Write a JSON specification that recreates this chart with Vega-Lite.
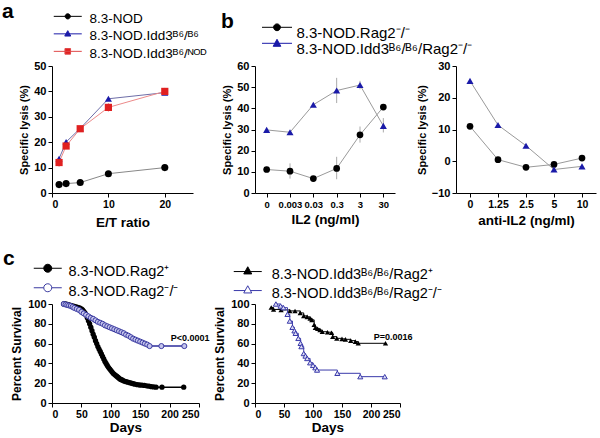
{
  "$schema": "https://vega.github.io/schema/vega-lite/v6.json",
  "autosize": {"type": "none"},
  "padding": {"left": 52, "top": 66, "right": 548, "bottom": 372},
  "background": "white",
  "config": {
    "view": {"stroke": null},
    "font": "Liberation Sans",
    "axis": {"domainColor": "black", "tickColor": "black", "labelColor": "black", "titleColor": "black", "labelFont": "Liberation Sans", "titleFont": "Liberation Sans", "labelFontWeight": "bold", "titleFontWeight": "bold", "grid": false, "tickSize": 4, "domainWidth": 1, "tickWidth": 1},
    "axisX": {"labelFontSize": 10.5, "titleFontSize": 13.5, "labelAngle": 0},
    "axisY": {"labelFontSize": 11, "titleFontSize": 11},
    "title": {"font": "Liberation Sans", "fontWeight": "bold", "color": "black", "anchor": "start", "frame": "group", "fontSize": 21},
    "legend": {"labelFont": "Liberation Sans", "labelColor": "black", "labelFontWeight": "normal", "labelLimit": 400, "symbolSize": 64, "padding": 0, "offset": 0, "symbolStrokeWidth": 1}
  },
  "datasets": {
    "a": [
      {"g": "8.3-NOD", "et": 1.25, "lysis": 3.3, "lo": 2.5, "hi": 4.1},
      {"g": "8.3-NOD", "et": 2.5, "lysis": 3.7, "lo": 3.2, "hi": 4.2},
      {"g": "8.3-NOD", "et": 5, "lysis": 4.1, "lo": 3.6, "hi": 4.6},
      {"g": "8.3-NOD", "et": 10, "lysis": 7.6, "lo": 7.0, "hi": 8.2},
      {"g": "8.3-NOD", "et": 20, "lysis": 10, "lo": 9.4, "hi": 10.6},
      {"g": "8.3-NOD.Idd3ᴮ⁶/ᴮ⁶", "et": 1.25, "lysis": 13.5, "lo": 12.5, "hi": 14.5},
      {"g": "8.3-NOD.Idd3ᴮ⁶/ᴮ⁶", "et": 2.5, "lysis": 20.1, "lo": 19.3, "hi": 20.9},
      {"g": "8.3-NOD.Idd3ᴮ⁶/ᴮ⁶", "et": 5, "lysis": 25.4, "lo": 24.6, "hi": 26.2},
      {"g": "8.3-NOD.Idd3ᴮ⁶/ᴮ⁶", "et": 10, "lysis": 37.1, "lo": 36.3, "hi": 37.9},
      {"g": "8.3-NOD.Idd3ᴮ⁶/ᴮ⁶", "et": 20, "lysis": 39.5, "lo": 38.5, "hi": 40.5},
      {"g": "8.3-NOD.Idd3ᴮ⁶/ᴺᴼᴰ", "et": 1.25, "lysis": 12, "lo": 10.3, "hi": 13.7},
      {"g": "8.3-NOD.Idd3ᴮ⁶/ᴺᴼᴰ", "et": 2.5, "lysis": 18.5, "lo": 17.5, "hi": 19.5},
      {"g": "8.3-NOD.Idd3ᴮ⁶/ᴺᴼᴰ", "et": 5, "lysis": 25.3, "lo": 24.3, "hi": 26.3},
      {"g": "8.3-NOD.Idd3ᴮ⁶/ᴺᴼᴰ", "et": 10, "lysis": 33.7, "lo": 32.0, "hi": 35.4},
      {"g": "8.3-NOD.Idd3ᴮ⁶/ᴺᴼᴰ", "et": 20, "lysis": 40, "lo": 38.6, "hi": 41.4}
    ],
    "b1": [
      {"g": "8.3-NOD.Rag2⁻/⁻", "c": "0", "v": 11.1, "lo": 9.8, "hi": 12.4},
      {"g": "8.3-NOD.Rag2⁻/⁻", "c": "0.003", "v": 10.3, "lo": 6.8, "hi": 14.0},
      {"g": "8.3-NOD.Rag2⁻/⁻", "c": "0.03", "v": 6.8, "lo": 6.1, "hi": 7.5},
      {"g": "8.3-NOD.Rag2⁻/⁻", "c": "0.3", "v": 11.6, "lo": 6.5, "hi": 17.1},
      {"g": "8.3-NOD.Rag2⁻/⁻", "c": "3", "v": 27.5, "lo": 23.8, "hi": 31.4},
      {"g": "8.3-NOD.Rag2⁻/⁻", "c": "30", "v": 40.6, "lo": 39.6, "hi": 41.6},
      {"g": "8.3-NOD.Idd3ᴮ⁶/ᴮ⁶/Rag2⁻/⁻", "c": "0", "v": 29.8, "lo": 29.1, "hi": 30.5},
      {"g": "8.3-NOD.Idd3ᴮ⁶/ᴮ⁶/Rag2⁻/⁻", "c": "0.003", "v": 28.7, "lo": 28.0, "hi": 29.4},
      {"g": "8.3-NOD.Idd3ᴮ⁶/ᴮ⁶/Rag2⁻/⁻", "c": "0.03", "v": 41.7, "lo": 40.9, "hi": 42.5},
      {"g": "8.3-NOD.Idd3ᴮ⁶/ᴮ⁶/Rag2⁻/⁻", "c": "0.3", "v": 48.4, "lo": 42.5, "hi": 54.4},
      {"g": "8.3-NOD.Idd3ᴮ⁶/ᴮ⁶/Rag2⁻/⁻", "c": "3", "v": 51, "lo": 49.0, "hi": 53.0},
      {"g": "8.3-NOD.Idd3ᴮ⁶/ᴮ⁶/Rag2⁻/⁻", "c": "30", "v": 31.7, "lo": 28.6, "hi": 35.4}
    ],
    "b2": [
      {"g": "8.3-NOD.Rag2⁻/⁻", "c": "0", "v": 11},
      {"g": "8.3-NOD.Rag2⁻/⁻", "c": "1.25", "v": 0.5},
      {"g": "8.3-NOD.Rag2⁻/⁻", "c": "2.5", "v": -1.9},
      {"g": "8.3-NOD.Rag2⁻/⁻", "c": "5", "v": -1},
      {"g": "8.3-NOD.Rag2⁻/⁻", "c": "10", "v": 1},
      {"g": "8.3-NOD.Idd3ᴮ⁶/ᴮ⁶/Rag2⁻/⁻", "c": "0", "v": 25.3},
      {"g": "8.3-NOD.Idd3ᴮ⁶/ᴮ⁶/Rag2⁻/⁻", "c": "1.25", "v": 11.4},
      {"g": "8.3-NOD.Idd3ᴮ⁶/ᴮ⁶/Rag2⁻/⁻", "c": "2.5", "v": 4.9},
      {"g": "8.3-NOD.Idd3ᴮ⁶/ᴮ⁶/Rag2⁻/⁻", "c": "5", "v": -2.6},
      {"g": "8.3-NOD.Idd3ᴮ⁶/ᴮ⁶/Rag2⁻/⁻", "c": "10", "v": -1.6}
    ],
    "c1": [
      {"g": "8.3-NOD.Rag2⁺", "day": 20, "pct": 100}, {"g": "8.3-NOD.Rag2⁺", "day": 23, "pct": 100}, {"g": "8.3-NOD.Rag2⁺", "day": 26, "pct": 99.5}, {"g": "8.3-NOD.Rag2⁺", "day": 29, "pct": 99}, {"g": "8.3-NOD.Rag2⁺", "day": 32, "pct": 98.5}, {"g": "8.3-NOD.Rag2⁺", "day": 35, "pct": 98}, {"g": "8.3-NOD.Rag2⁺", "day": 38, "pct": 97.5}, {"g": "8.3-NOD.Rag2⁺", "day": 41, "pct": 97}, {"g": "8.3-NOD.Rag2⁺", "day": 44, "pct": 96.5}, {"g": "8.3-NOD.Rag2⁺", "day": 47, "pct": 96}, {"g": "8.3-NOD.Rag2⁺", "day": 50, "pct": 95}, {"g": "8.3-NOD.Rag2⁺", "day": 52, "pct": 94}, {"g": "8.3-NOD.Rag2⁺", "day": 54, "pct": 92.5}, {"g": "8.3-NOD.Rag2⁺", "day": 56, "pct": 91}, {"g": "8.3-NOD.Rag2⁺", "day": 58, "pct": 89}, {"g": "8.3-NOD.Rag2⁺", "day": 60, "pct": 86}, {"g": "8.3-NOD.Rag2⁺", "day": 62, "pct": 83}, {"g": "8.3-NOD.Rag2⁺", "day": 64, "pct": 80}, {"g": "8.3-NOD.Rag2⁺", "day": 66, "pct": 76.5}, {"g": "8.3-NOD.Rag2⁺", "day": 68, "pct": 73}, {"g": "8.3-NOD.Rag2⁺", "day": 70, "pct": 69.5}, {"g": "8.3-NOD.Rag2⁺", "day": 72, "pct": 66.5}, {"g": "8.3-NOD.Rag2⁺", "day": 74, "pct": 63}, {"g": "8.3-NOD.Rag2⁺", "day": 76, "pct": 60}, {"g": "8.3-NOD.Rag2⁺", "day": 78, "pct": 57}, {"g": "8.3-NOD.Rag2⁺", "day": 80, "pct": 54.5}, {"g": "8.3-NOD.Rag2⁺", "day": 82, "pct": 52}, {"g": "8.3-NOD.Rag2⁺", "day": 84, "pct": 49.5}, {"g": "8.3-NOD.Rag2⁺", "day": 86, "pct": 47}, {"g": "8.3-NOD.Rag2⁺", "day": 88, "pct": 44.5}, {"g": "8.3-NOD.Rag2⁺", "day": 90, "pct": 42}, {"g": "8.3-NOD.Rag2⁺", "day": 92, "pct": 40}, {"g": "8.3-NOD.Rag2⁺", "day": 94, "pct": 38}, {"g": "8.3-NOD.Rag2⁺", "day": 96, "pct": 36}, {"g": "8.3-NOD.Rag2⁺", "day": 98, "pct": 34.5}, {"g": "8.3-NOD.Rag2⁺", "day": 100, "pct": 33}, {"g": "8.3-NOD.Rag2⁺", "day": 102, "pct": 31.5}, {"g": "8.3-NOD.Rag2⁺", "day": 104, "pct": 30}, {"g": "8.3-NOD.Rag2⁺", "day": 106, "pct": 29}, {"g": "8.3-NOD.Rag2⁺", "day": 108, "pct": 28}, {"g": "8.3-NOD.Rag2⁺", "day": 110, "pct": 27}, {"g": "8.3-NOD.Rag2⁺", "day": 112, "pct": 26}, {"g": "8.3-NOD.Rag2⁺", "day": 114, "pct": 25}, {"g": "8.3-NOD.Rag2⁺", "day": 116, "pct": 24}, {"g": "8.3-NOD.Rag2⁺", "day": 118, "pct": 23.5}, {"g": "8.3-NOD.Rag2⁺", "day": 120, "pct": 23}, {"g": "8.3-NOD.Rag2⁺", "day": 123, "pct": 22}, {"g": "8.3-NOD.Rag2⁺", "day": 126, "pct": 21.5}, {"g": "8.3-NOD.Rag2⁺", "day": 129, "pct": 21}, {"g": "8.3-NOD.Rag2⁺", "day": 132, "pct": 20.5}, {"g": "8.3-NOD.Rag2⁺", "day": 135, "pct": 20}, {"g": "8.3-NOD.Rag2⁺", "day": 138, "pct": 19.5}, {"g": "8.3-NOD.Rag2⁺", "day": 141, "pct": 19}, {"g": "8.3-NOD.Rag2⁺", "day": 145, "pct": 18.5}, {"g": "8.3-NOD.Rag2⁺", "day": 149, "pct": 18.2}, {"g": "8.3-NOD.Rag2⁺", "day": 153, "pct": 18}, {"g": "8.3-NOD.Rag2⁺", "day": 157, "pct": 17.7}, {"g": "8.3-NOD.Rag2⁺", "day": 161, "pct": 17.3}, {"g": "8.3-NOD.Rag2⁺", "day": 165, "pct": 17}, {"g": "8.3-NOD.Rag2⁺", "day": 169, "pct": 16.5}, {"g": "8.3-NOD.Rag2⁺", "day": 173, "pct": 16.2}, {"g": "8.3-NOD.Rag2⁺", "day": 177, "pct": 16}, {"g": "8.3-NOD.Rag2⁺", "day": 187, "pct": 16}, {"g": "8.3-NOD.Rag2⁺", "day": 224, "pct": 16},
      {"g": "8.3-NOD.Rag2⁻/⁻", "day": 20, "pct": 100}, {"g": "8.3-NOD.Rag2⁻/⁻", "day": 23, "pct": 99.5}, {"g": "8.3-NOD.Rag2⁻/⁻", "day": 26, "pct": 99}, {"g": "8.3-NOD.Rag2⁻/⁻", "day": 29, "pct": 98.5}, {"g": "8.3-NOD.Rag2⁻/⁻", "day": 32, "pct": 98}, {"g": "8.3-NOD.Rag2⁻/⁻", "day": 35, "pct": 97}, {"g": "8.3-NOD.Rag2⁻/⁻", "day": 38, "pct": 96}, {"g": "8.3-NOD.Rag2⁻/⁻", "day": 42, "pct": 95}, {"g": "8.3-NOD.Rag2⁻/⁻", "day": 46, "pct": 94}, {"g": "8.3-NOD.Rag2⁻/⁻", "day": 50, "pct": 92}, {"g": "8.3-NOD.Rag2⁻/⁻", "day": 54, "pct": 90.5}, {"g": "8.3-NOD.Rag2⁻/⁻", "day": 58, "pct": 89}, {"g": "8.3-NOD.Rag2⁻/⁻", "day": 62, "pct": 87.5}, {"g": "8.3-NOD.Rag2⁻/⁻", "day": 66, "pct": 86}, {"g": "8.3-NOD.Rag2⁻/⁻", "day": 70, "pct": 85}, {"g": "8.3-NOD.Rag2⁻/⁻", "day": 74, "pct": 83.5}, {"g": "8.3-NOD.Rag2⁻/⁻", "day": 78, "pct": 82}, {"g": "8.3-NOD.Rag2⁻/⁻", "day": 82, "pct": 81}, {"g": "8.3-NOD.Rag2⁻/⁻", "day": 86, "pct": 80}, {"g": "8.3-NOD.Rag2⁻/⁻", "day": 90, "pct": 78.5}, {"g": "8.3-NOD.Rag2⁻/⁻", "day": 94, "pct": 77.5}, {"g": "8.3-NOD.Rag2⁻/⁻", "day": 98, "pct": 76.5}, {"g": "8.3-NOD.Rag2⁻/⁻", "day": 102, "pct": 75.5}, {"g": "8.3-NOD.Rag2⁻/⁻", "day": 106, "pct": 74.5}, {"g": "8.3-NOD.Rag2⁻/⁻", "day": 110, "pct": 73.5}, {"g": "8.3-NOD.Rag2⁻/⁻", "day": 114, "pct": 72.5}, {"g": "8.3-NOD.Rag2⁻/⁻", "day": 118, "pct": 71.5}, {"g": "8.3-NOD.Rag2⁻/⁻", "day": 122, "pct": 70.5}, {"g": "8.3-NOD.Rag2⁻/⁻", "day": 126, "pct": 69}, {"g": "8.3-NOD.Rag2⁻/⁻", "day": 130, "pct": 68}, {"g": "8.3-NOD.Rag2⁻/⁻", "day": 134, "pct": 66.5}, {"g": "8.3-NOD.Rag2⁻/⁻", "day": 138, "pct": 65}, {"g": "8.3-NOD.Rag2⁻/⁻", "day": 142, "pct": 64}, {"g": "8.3-NOD.Rag2⁻/⁻", "day": 146, "pct": 63}, {"g": "8.3-NOD.Rag2⁻/⁻", "day": 150, "pct": 62}, {"g": "8.3-NOD.Rag2⁻/⁻", "day": 154, "pct": 61}, {"g": "8.3-NOD.Rag2⁻/⁻", "day": 158, "pct": 60}, {"g": "8.3-NOD.Rag2⁻/⁻", "day": 162, "pct": 59}, {"g": "8.3-NOD.Rag2⁻/⁻", "day": 166, "pct": 57.5}, {"g": "8.3-NOD.Rag2⁻/⁻", "day": 186, "pct": 57.5}, {"g": "8.3-NOD.Rag2⁻/⁻", "day": 225, "pct": 57.5}
    ],
    "c2": [
      {"g": "8.3-NOD.Idd3ᴮ⁶/ᴮ⁶/Rag2⁺", "day": 28, "pct": 96.5}, {"g": "8.3-NOD.Idd3ᴮ⁶/ᴮ⁶/Rag2⁺", "day": 32, "pct": 94.5}, {"g": "8.3-NOD.Idd3ᴮ⁶/ᴮ⁶/Rag2⁺", "day": 45, "pct": 94}, {"g": "8.3-NOD.Idd3ᴮ⁶/ᴮ⁶/Rag2⁺", "day": 60, "pct": 93}, {"g": "8.3-NOD.Idd3ᴮ⁶/ᴮ⁶/Rag2⁺", "day": 69, "pct": 93}, {"g": "8.3-NOD.Idd3ᴮ⁶/ᴮ⁶/Rag2⁺", "day": 78, "pct": 91}, {"g": "8.3-NOD.Idd3ᴮ⁶/ᴮ⁶/Rag2⁺", "day": 84, "pct": 88}, {"g": "8.3-NOD.Idd3ᴮ⁶/ᴮ⁶/Rag2⁺", "day": 90, "pct": 87}, {"g": "8.3-NOD.Idd3ᴮ⁶/ᴮ⁶/Rag2⁺", "day": 95, "pct": 85.5}, {"g": "8.3-NOD.Idd3ᴮ⁶/ᴮ⁶/Rag2⁺", "day": 98, "pct": 84}, {"g": "8.3-NOD.Idd3ᴮ⁶/ᴮ⁶/Rag2⁺", "day": 102, "pct": 79}, {"g": "8.3-NOD.Idd3ᴮ⁶/ᴮ⁶/Rag2⁺", "day": 104, "pct": 76}, {"g": "8.3-NOD.Idd3ᴮ⁶/ᴮ⁶/Rag2⁺", "day": 108, "pct": 75}, {"g": "8.3-NOD.Idd3ᴮ⁶/ᴮ⁶/Rag2⁺", "day": 112, "pct": 73.7}, {"g": "8.3-NOD.Idd3ᴮ⁶/ᴮ⁶/Rag2⁺", "day": 116, "pct": 72}, {"g": "8.3-NOD.Idd3ᴮ⁶/ᴮ⁶/Rag2⁺", "day": 125, "pct": 71.5}, {"g": "8.3-NOD.Idd3ᴮ⁶/ᴮ⁶/Rag2⁺", "day": 132, "pct": 71}, {"g": "8.3-NOD.Idd3ᴮ⁶/ᴮ⁶/Rag2⁺", "day": 134, "pct": 67}, {"g": "8.3-NOD.Idd3ᴮ⁶/ᴮ⁶/Rag2⁺", "day": 141, "pct": 65.3}, {"g": "8.3-NOD.Idd3ᴮ⁶/ᴮ⁶/Rag2⁺", "day": 150, "pct": 64.8}, {"g": "8.3-NOD.Idd3ᴮ⁶/ᴮ⁶/Rag2⁺", "day": 156, "pct": 64.3}, {"g": "8.3-NOD.Idd3ᴮ⁶/ᴮ⁶/Rag2⁺", "day": 165, "pct": 63}, {"g": "8.3-NOD.Idd3ᴮ⁶/ᴮ⁶/Rag2⁺", "day": 173, "pct": 62}, {"g": "8.3-NOD.Idd3ᴮ⁶/ᴮ⁶/Rag2⁺", "day": 178, "pct": 60.3}, {"g": "8.3-NOD.Idd3ᴮ⁶/ᴮ⁶/Rag2⁺", "day": 225, "pct": 60.3},
      {"g": "8.3-NOD.Idd3ᴮ⁶/ᴮ⁶/Rag2⁻/⁻", "day": 36, "pct": 100}, {"g": "8.3-NOD.Idd3ᴮ⁶/ᴮ⁶/Rag2⁻/⁻", "day": 44, "pct": 98}, {"g": "8.3-NOD.Idd3ᴮ⁶/ᴮ⁶/Rag2⁻/⁻", "day": 49, "pct": 96.3}, {"g": "8.3-NOD.Idd3ᴮ⁶/ᴮ⁶/Rag2⁻/⁻", "day": 56, "pct": 89.6}, {"g": "8.3-NOD.Idd3ᴮ⁶/ᴮ⁶/Rag2⁻/⁻", "day": 60, "pct": 82.8}, {"g": "8.3-NOD.Idd3ᴮ⁶/ᴮ⁶/Rag2⁻/⁻", "day": 64.6, "pct": 76.5}, {"g": "8.3-NOD.Idd3ᴮ⁶/ᴮ⁶/Rag2⁻/⁻", "day": 68, "pct": 73}, {"g": "8.3-NOD.Idd3ᴮ⁶/ᴮ⁶/Rag2⁻/⁻", "day": 70, "pct": 70.4}, {"g": "8.3-NOD.Idd3ᴮ⁶/ᴮ⁶/Rag2⁻/⁻", "day": 74.7, "pct": 65.3}, {"g": "8.3-NOD.Idd3ᴮ⁶/ᴮ⁶/Rag2⁻/⁻", "day": 78.6, "pct": 60.3}, {"g": "8.3-NOD.Idd3ᴮ⁶/ᴮ⁶/Rag2⁻/⁻", "day": 80, "pct": 57}, {"g": "8.3-NOD.Idd3ᴮ⁶/ᴮ⁶/Rag2⁻/⁻", "day": 84, "pct": 50}, {"g": "8.3-NOD.Idd3ᴮ⁶/ᴮ⁶/Rag2⁻/⁻", "day": 87, "pct": 47.5}, {"g": "8.3-NOD.Idd3ᴮ⁶/ᴮ⁶/Rag2⁻/⁻", "day": 90, "pct": 45}, {"g": "8.3-NOD.Idd3ᴮ⁶/ᴮ⁶/Rag2⁻/⁻", "day": 95, "pct": 40.7}, {"g": "8.3-NOD.Idd3ᴮ⁶/ᴮ⁶/Rag2⁻/⁻", "day": 100, "pct": 38}, {"g": "8.3-NOD.Idd3ᴮ⁶/ᴮ⁶/Rag2⁻/⁻", "day": 104, "pct": 35.7}, {"g": "8.3-NOD.Idd3ᴮ⁶/ᴮ⁶/Rag2⁻/⁻", "day": 107, "pct": 33.3}, {"g": "8.3-NOD.Idd3ᴮ⁶/ᴮ⁶/Rag2⁻/⁻", "day": 142, "pct": 30}, {"g": "8.3-NOD.Idd3ᴮ⁶/ᴮ⁶/Rag2⁻/⁻", "day": 181.5, "pct": 26.6}, {"g": "8.3-NOD.Idd3ᴮ⁶/ᴮ⁶/Rag2⁻/⁻", "day": 223.7, "pct": 26.6}
    ]
  },
  "columns": 3,
  "spacing": {"row": 111, "column": 56},
  "bounds": "flush",
  "resolve": {
    "scale": {"shape": "independent", "fill": "independent", "stroke": "independent"},
    "legend": {"shape": "independent", "fill": "independent", "stroke": "independent"}
  },
  "concat": [
    {
      "width": 141, "height": 127,
      "title": {"text": "a", "dx": -50, "offset": -27, "baseline": "alphabetic"},
      "data": {"name": "a"},
      "encoding": {
        "x": {"field": "et", "type": "quantitative", "scale": {"domain": [0, 25], "nice": false}, "axis": {"values": [0, 10, 20], "title": "E/T ratio", "titlePadding": 6}},
        "y": {"field": "lysis", "type": "quantitative", "scale": {"domain": [0, 50]}, "axis": {"values": [0, 10, 20, 30, 40, 50], "title": "Specific lysis (%)"}}
      },
      "layer": [
        {"transform": [{"filter": {"field": "g", "equal": "8.3-NOD.Idd3ᴮ⁶/ᴺᴼᴰ"}}],
         "mark": {"type": "rule", "strokeWidth": 1, "color": "#ee9a9a"},
         "encoding": {"y": {"field": "lo", "type": "quantitative", "axis": {"values": [0, 10, 20, 30, 40, 50], "title": "Specific lysis (%)"}}, "y2": {"field": "hi"}}},
        {"transform": [{"filter": {"field": "g", "equal": "8.3-NOD"}}],
         "mark": {"type": "line", "strokeWidth": 1, "color": "#888888"}},
        {"transform": [{"filter": {"field": "g", "equal": "8.3-NOD.Idd3ᴮ⁶/ᴮ⁶"}}],
         "mark": {"type": "line", "strokeWidth": 1, "color": "#6e6ea8"}},
        {"transform": [{"filter": {"field": "g", "equal": "8.3-NOD.Idd3ᴮ⁶/ᴺᴼᴰ"}}],
         "mark": {"type": "line", "strokeWidth": 1, "color": "#ec8a8a"}},
        {"transform": [{"filter": {"field": "g", "equal": "8.3-NOD"}}],
         "mark": {"type": "point", "shape": "circle", "filled": true, "opacity": 1, "size": 50, "strokeWidth": 0, "color": "#000000"}},
        {"transform": [{"filter": {"field": "g", "equal": "8.3-NOD.Idd3ᴮ⁶/ᴮ⁶"}}],
         "mark": {"type": "point", "shape": "triangle-up", "filled": true, "opacity": 1, "size": 50, "strokeWidth": 0, "color": "#1a1aa8"}},
        {"transform": [{"filter": {"field": "g", "equal": "8.3-NOD.Idd3ᴮ⁶/ᴺᴼᴰ"}}],
         "mark": {"type": "point", "shape": "square", "filled": true, "opacity": 1, "size": 52, "strokeWidth": 0, "color": "#e02020"}},
        {"transform": [{"filter": "false"}],
         "mark": {"type": "point", "filled": true, "opacity": 1, "size": 64, "strokeWidth": 1},
         "encoding": {
           "shape": {"field": "g", "type": "nominal", "scale": {"domain": ["8.3-NOD", "8.3-NOD.Idd3ᴮ⁶/ᴮ⁶", "8.3-NOD.Idd3ᴮ⁶/ᴺᴼᴰ"], "range": ["M-3.5,-0.6H3.5M-0.65,-0.6A0.65,0.65,0,1,1,0.65,-0.6A0.65,0.65,0,1,1,-0.65,-0.6Z", "M-3.5,-0.6H3.5M0,-1.4L0.75,-0.05L-0.75,-0.05Z", "M-3.5,-0.6H3.5M-0.7,-1.3H0.7V0.1H-0.7Z"]},
             "legend": {"orient": "none", "legendX": 9, "legendY": -54, "title": null, "labelFontSize": 13.5, "labelOffset": 15, "rowPadding": 2.5}},
           "fill": {"field": "g", "type": "nominal", "scale": {"domain": ["8.3-NOD", "8.3-NOD.Idd3ᴮ⁶/ᴮ⁶", "8.3-NOD.Idd3ᴮ⁶/ᴺᴼᴰ"], "range": ["#000000", "#1a1aa8", "#e02020"]}},
           "stroke": {"field": "g", "type": "nominal", "scale": {"domain": ["8.3-NOD", "8.3-NOD.Idd3ᴮ⁶/ᴮ⁶", "8.3-NOD.Idd3ᴮ⁶/ᴺᴼᴰ"], "range": ["#000000", "#1a1aa8", "#e04848"]}}
         }}
      ]
    },
    {
      "width": 140, "height": 127,
      "title": {"text": "b", "dx": -34, "offset": -24, "baseline": "alphabetic"},
      "data": {"name": "b1"},
      "encoding": {
        "x": {"field": "c", "type": "ordinal", "scale": {"type": "point", "domain": ["0", "0.003", "0.03", "0.3", "3", "30"], "padding": 0.5}, "axis": {"title": "IL2 (ng/ml)", "labelFontSize": 9.5}},
        "y": {"field": "v", "type": "quantitative", "scale": {"domain": [0, 60]}, "axis": {"values": [0, 10, 20, 30, 40, 50, 60], "title": "Specific lysis (%)"}}
      },
      "layer": [
        {"mark": {"type": "rule", "strokeWidth": 1, "color": "#aaaaaa"},
         "encoding": {"y": {"field": "lo", "type": "quantitative", "axis": {"values": [0, 10, 20, 30, 40, 50, 60], "title": "Specific lysis (%)"}}, "y2": {"field": "hi"}}},
        {"mark": {"type": "line", "strokeWidth": 1, "color": "#9a9a9a"},
         "encoding": {"detail": {"field": "g"}}},
        {"transform": [{"filter": {"field": "g", "equal": "8.3-NOD.Rag2⁻/⁻"}}],
         "mark": {"type": "point", "shape": "circle", "filled": true, "opacity": 1, "size": 45, "strokeWidth": 0, "color": "#000000"}},
        {"transform": [{"filter": {"field": "g", "equal": "8.3-NOD.Idd3ᴮ⁶/ᴮ⁶/Rag2⁻/⁻"}}],
         "mark": {"type": "point", "shape": "triangle-up", "filled": true, "opacity": 1, "size": 50, "strokeWidth": 0, "color": "#1a1aa8"}},
        {"transform": [{"filter": "false"}],
         "mark": {"type": "point", "filled": true, "opacity": 1, "size": 64, "strokeWidth": 1},
         "encoding": {
           "shape": {"field": "g", "type": "nominal", "scale": {"domain": ["8.3-NOD.Rag2⁻/⁻", "8.3-NOD.Idd3ᴮ⁶/ᴮ⁶/Rag2⁻/⁻"], "range": ["M-3.75,-1.3H3.75M-0.85,-1.3A0.85,0.85,0,1,1,0.85,-1.3A0.85,0.85,0,1,1,-0.85,-1.3Z", "M-3.75,-1.3H3.75M0,-2.3L0.95,-0.55L-0.95,-0.55Z"]},
             "legend": {"orient": "none", "legendX": 14.5, "legendY": -41, "title": null, "labelFontSize": 15, "labelOffset": 12, "rowPadding": -16}},
           "fill": {"field": "g", "type": "nominal", "scale": {"domain": ["8.3-NOD.Rag2⁻/⁻", "8.3-NOD.Idd3ᴮ⁶/ᴮ⁶/Rag2⁻/⁻"], "range": ["#000000", "#1a1aa8"]}},
           "stroke": {"field": "g", "type": "nominal", "scale": {"domain": ["8.3-NOD.Rag2⁻/⁻", "8.3-NOD.Idd3ᴮ⁶/ᴮ⁶/Rag2⁻/⁻"], "range": ["#000000", "#1a1aa8"]}}
         }}
      ]
    },
    {
      "width": 140, "height": 127,
      "data": {"name": "b2"},
      "encoding": {
        "x": {"field": "c", "type": "ordinal", "scale": {"type": "point", "domain": ["0", "1.25", "2.5", "5", "10"], "padding": 0.5}, "axis": {"title": "anti-IL2 (ng/ml)"}},
        "y": {"field": "v", "type": "quantitative", "scale": {"domain": [-10, 30]}, "axis": {"values": [-10, 0, 10, 20, 30], "title": "Specific lysis (%)"}}
      },
      "layer": [
        {"mark": {"type": "line", "strokeWidth": 1, "color": "#9a9a9a"},
         "encoding": {"detail": {"field": "g"}}},
        {"transform": [{"filter": {"field": "g", "equal": "8.3-NOD.Rag2⁻/⁻"}}],
         "mark": {"type": "point", "shape": "circle", "filled": true, "opacity": 1, "size": 45, "strokeWidth": 0, "color": "#000000"}},
        {"transform": [{"filter": {"field": "g", "equal": "8.3-NOD.Idd3ᴮ⁶/ᴮ⁶/Rag2⁻/⁻"}}],
         "mark": {"type": "point", "shape": "triangle-up", "filled": true, "opacity": 1, "size": 50, "strokeWidth": 0, "color": "#1a1aa8"}}
      ]
    },
    {
      "width": 147, "height": 99,
      "title": {"text": "c", "dx": -49, "offset": -21, "baseline": "alphabetic"},
      "data": {"name": "c1"},
      "encoding": {
        "x": {"field": "day", "type": "quantitative", "scale": {"domain": [0, 250], "nice": false}, "axis": {"values": [0, 50, 100, 150, 200, 250], "title": "Days", "titlePadding": 1}},
        "y": {"field": "pct", "type": "quantitative", "scale": {"domain": [0, 100]}, "axis": {"values": [0, 20, 40, 60, 80, 100], "title": "Percent Survival", "titleFontSize": 12}}
      },
      "layer": [
        {"transform": [{"filter": {"field": "g", "equal": "8.3-NOD.Rag2⁺"}}],
         "mark": {"type": "line", "interpolate": "step-after", "strokeWidth": 1.5, "color": "#000000"}},
        {"transform": [{"filter": {"field": "g", "equal": "8.3-NOD.Rag2⁻/⁻"}}],
         "mark": {"type": "line", "interpolate": "step-after", "strokeWidth": 1.5, "color": "#2e2e9c"}},
        {"transform": [{"filter": {"field": "g", "equal": "8.3-NOD.Rag2⁺"}}],
         "mark": {"type": "point", "shape": "circle", "filled": true, "opacity": 1, "size": 28, "strokeWidth": 0, "color": "#000000"}},
        {"transform": [{"filter": {"field": "g", "equal": "8.3-NOD.Rag2⁻/⁻"}}],
         "mark": {"type": "point", "shape": "circle", "filled": true, "opacity": 1, "size": 26, "strokeWidth": 1, "fill": "#c4c4ec", "stroke": "#3a3aa0"}},
        {"transform": [{"filter": "false"}],
         "mark": {"type": "point", "filled": true, "opacity": 1, "size": 64, "strokeWidth": 1},
         "encoding": {
           "shape": {"field": "g", "type": "nominal", "scale": {"domain": ["8.3-NOD.Rag2⁺", "8.3-NOD.Rag2⁻/⁻"], "range": ["M-3.5,-1H3.5M-1,-1A1,1,0,1,1,1,-1A1,1,0,1,1,-1,-1Z", "M-3.5,-1H-1M1,-1H3.5M-1,-1A1,1,0,1,1,1,-1A1,1,0,1,1,-1,-1Z"]},
             "legend": {"orient": "none", "legendX": -11.5, "legendY": -39, "title": null, "labelFontSize": 14.5, "labelOffset": 13.5, "rowPadding": 2.5}},
           "fill": {"field": "g", "type": "nominal", "scale": {"domain": ["8.3-NOD.Rag2⁺", "8.3-NOD.Rag2⁻/⁻"], "range": ["#000000", "#ffffff"]}},
           "stroke": {"field": "g", "type": "nominal", "scale": {"domain": ["8.3-NOD.Rag2⁺", "8.3-NOD.Rag2⁻/⁻"], "range": ["#000000", "#3a3aa0"]}}
         }},
        {"transform": [{"filter": {"field": "day", "equal": 225}}],
         "mark": {"type": "text", "fontSize": 9, "fontWeight": "bold", "font": "Liberation Sans", "color": "black", "text": "P<0.0001"},
         "encoding": {"x": {"datum": 235, "type": "quantitative"}, "y": {"datum": 65.7, "type": "quantitative"}}}
      ]
    },
    {
      "width": 145, "height": 99,
      "data": {"name": "c2"},
      "encoding": {
        "x": {"field": "day", "type": "quantitative", "scale": {"domain": [0, 250], "nice": false}, "axis": {"values": [0, 50, 100, 150, 200, 250], "title": "Days", "titlePadding": 1}},
        "y": {"field": "pct", "type": "quantitative", "scale": {"domain": [0, 100]}, "axis": {"values": [0, 20, 40, 60, 80, 100], "title": "Percent Survival", "titleFontSize": 12}}
      },
      "layer": [
        {"transform": [{"filter": {"field": "g", "equal": "8.3-NOD.Idd3ᴮ⁶/ᴮ⁶/Rag2⁺"}}],
         "mark": {"type": "line", "interpolate": "step-after", "strokeWidth": 1, "color": "#000000"}},
        {"transform": [{"filter": {"field": "g", "equal": "8.3-NOD.Idd3ᴮ⁶/ᴮ⁶/Rag2⁻/⁻"}}],
         "mark": {"type": "line", "interpolate": "step-after", "strokeWidth": 1, "color": "#3a3aaa"}},
        {"transform": [{"filter": {"field": "g", "equal": "8.3-NOD.Idd3ᴮ⁶/ᴮ⁶/Rag2⁺"}}],
         "mark": {"type": "point", "shape": "triangle-up", "filled": true, "opacity": 1, "size": 28, "strokeWidth": 0, "color": "#000000"}},
        {"transform": [{"filter": {"field": "g", "equal": "8.3-NOD.Idd3ᴮ⁶/ᴮ⁶/Rag2⁻/⁻"}}],
         "mark": {"type": "point", "shape": "triangle-up", "filled": true, "opacity": 1, "size": 26, "strokeWidth": 1, "fill": "#dcdcf4", "stroke": "#3a3aaa"}},
        {"transform": [{"filter": "false"}],
         "mark": {"type": "point", "filled": true, "opacity": 1, "size": 64, "strokeWidth": 1},
         "encoding": {
           "shape": {"field": "g", "type": "nominal", "scale": {"domain": ["8.3-NOD.Idd3ᴮ⁶/ᴮ⁶/Rag2⁺", "8.3-NOD.Idd3ᴮ⁶/ᴮ⁶/Rag2⁻/⁻"], "range": ["M-3.5,-0.8H3.5M0,-2L1,-0.2L-1,-0.2Z", "M-3.5,-0.8H-0.67M0.67,-0.8H3.5M0,-2L1,-0.2L-1,-0.2Z"]},
             "legend": {"orient": "none", "legendX": -14.5, "legendY": -36.5, "title": null, "labelFontSize": 14.5, "labelOffset": 16.7, "rowPadding": 2}},
           "fill": {"field": "g", "type": "nominal", "scale": {"domain": ["8.3-NOD.Idd3ᴮ⁶/ᴮ⁶/Rag2⁺", "8.3-NOD.Idd3ᴮ⁶/ᴮ⁶/Rag2⁻/⁻"], "range": ["#000000", "#ffffff"]}},
           "stroke": {"field": "g", "type": "nominal", "scale": {"domain": ["8.3-NOD.Idd3ᴮ⁶/ᴮ⁶/Rag2⁺", "8.3-NOD.Idd3ᴮ⁶/ᴮ⁶/Rag2⁻/⁻"], "range": ["#000000", "#3a3aaa"]}}
         }},
        {"transform": [{"filter": {"field": "day", "equal": 225}}],
         "mark": {"type": "text", "fontSize": 9, "fontWeight": "bold", "font": "Liberation Sans", "color": "black", "text": "P=0.0016"},
         "encoding": {"x": {"datum": 238, "type": "quantitative"}, "y": {"datum": 66.4, "type": "quantitative"}}}
      ]
    }
  ]
}
